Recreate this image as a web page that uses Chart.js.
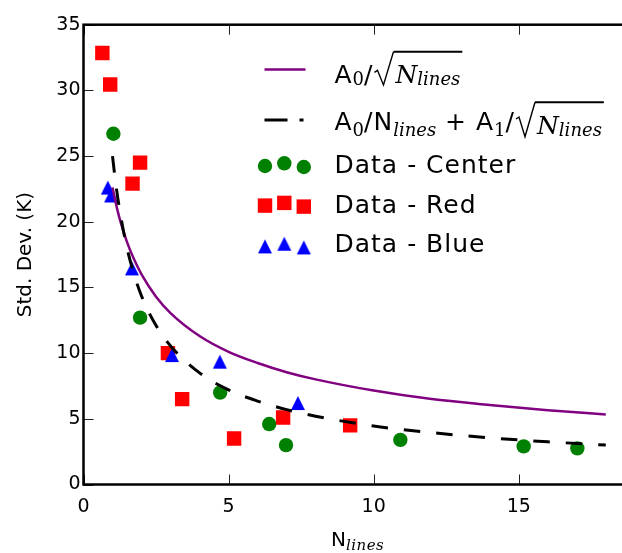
<!DOCTYPE html>
<html>
<head>
<meta charset="utf-8">
<script src="https://cdn.jsdelivr.net/npm/chart.js@4.4.1/dist/chart.umd.min.js"></script>
<style>
  html, body { margin: 0; padding: 0; background: #fff; overflow: hidden; width: 622px; height: 553px; }
  #wrap { width: 645px; height: 553px; }
</style>
</head>
<body>
<div id="wrap"><canvas id="noiseChart" width="645" height="553"></canvas></div>
<script>
// values
const centerN = [1.03, 1.95, 4.71, 6.40, 6.98, 10.92, 15.17, 17.02]
const centerSd = [26.7, 12.7, 7.0, 4.6, 3.0, 3.4, 2.9, 2.75]

const redN = [0.65, 0.92, 1.95, 1.69, 2.91, 3.40, 5.19, 6.88, 9.19]
const redSd = [32.85, 30.45, 24.5, 22.9, 10.0, 6.5, 3.5, 5.1, 4.5]

const blueN = [0.84, 0.95, 1.67, 3.05, 4.70, 7.39]
const blueSd = [22.6, 22.0, 16.45, 9.85, 9.35, 6.2]

// fitted curves
const curveN = [1, 1.1, 1.25, 1.5, 1.75, 2, 2.5, 3, 4, 5, 6, 7, 8, 10, 12, 14, 16, 18]
const sqrtFit = [22.6, 21.55, 20.2, 18.45, 17.1, 16.0, 14.3, 13.05, 11.3, 10.1, 9.25, 8.55, 8.0, 7.15, 6.5, 6.05, 5.65, 5.33]
const mixedFit = [25.0, 23.1, 20.85, 18.0, 15.95, 14.35, 12.1, 10.55, 8.5, 7.2, 6.35, 5.7, 5.2, 4.45, 3.95, 3.55, 3.25, 3.0]

const xTicks = [0, 5, 10, 15]
const yTicks = [0, 5, 10, 15, 20, 25, 30, 35]

const toPoints = (xs, ys) => xs.map((v, i) => ({ x: v, y: ys[i] }))

const SANS = '"DejaVu Sans", sans-serif'
const SERIF = '"DejaVu Serif", serif'

// matplotlib style '^' marker, centred on its bounding box
function triangleMarker(color) {
    const c = document.createElement('canvas')
    c.width = 16
    c.height = 16
    const g = c.getContext('2d')
    g.fillStyle = color
    g.beginPath()
    g.moveTo(8, 1)
    g.lineTo(15, 15)
    g.lineTo(1, 15)
    g.closePath()
    g.fill()
    return c
}
const blueTriangle = triangleMarker('#0000ff')

function runs(ctx, items, x, base, draw) {
    for (const r of items) {
        if (r.sqrt) {
            const w = runs(ctx, r.sqrt, 0, base, false)
            if (draw) {
                ctx.save()
                ctx.lineWidth = 1.4
                ctx.strokeStyle = '#000'
                ctx.beginPath()
                ctx.moveTo(x + 1, base - 11)
                ctx.lineTo(x + 4, base - 13)
                ctx.lineTo(x + 10, base + r.bot)
                ctx.lineTo(x + 20, base - r.top)
                ctx.stroke()
                ctx.lineWidth = 2
                ctx.beginPath()
                ctx.moveTo(x + 20, base - r.top)
                ctx.lineTo(x + 24 + w, base - r.top)
                ctx.stroke()
                ctx.restore()
            }
            x = runs(ctx, r.sqrt, x + 22, base, draw) + 2
        } else {
            ctx.font = r.font
            ctx.letterSpacing = r.spacing || '0px'
            if (draw) ctx.fillText(r.text, x, base + (r.dy || 0))
            x += ctx.measureText(r.text).width + (r.gap || 0)
            ctx.letterSpacing = '0px'
        }
    }
    return x
}

const bigSans = '25px ' + SANS
const subSerif = '18px ' + SERIF
const subItalic = 'italic 18px ' + SERIF
const bigItalic = 'italic 25px ' + SERIF
const wide = '1px'

const legendRows = [
    {
        kind: 'line', y: 69.5, base: 83.3,
        label: [
            { text: 'A', font: bigSans, spacing: wide },
            { text: '0', font: subSerif, dy: 2 },
            { text: '/', font: bigSans, gap: 1 },
            { sqrt: [{ text: 'N', font: bigItalic }, { text: 'lines', font: subItalic, dy: 2 }], top: 31.5, bot: 1.7 }
        ]
    },
    {
        kind: 'dash', y: 120, base: 130,
        label: [
            { text: 'A', font: bigSans, spacing: wide },
            { text: '0', font: subSerif, dy: 6 },
            { text: '/', font: bigSans, spacing: wide },
            { text: 'N', font: bigSans, spacing: wide },
            { text: 'lines', font: subItalic, dy: 6 },
            { text: ' + ', font: bigSans, spacing: wide },
            { text: 'A', font: bigSans, spacing: wide },
            { text: '1', font: subSerif, dy: 6 },
            { text: '/', font: bigSans, gap: 1 },
            { sqrt: [{ text: 'N', font: bigItalic, dy: 4 }, { text: 'lines', font: subItalic, dy: 6 }], top: 27.7, bot: 6.7 }
        ]
    },
    { kind: 'circle', color: '#008000', y: 165.6, base: 172.7, label: [{ text: 'Data - Center', font: bigSans, spacing: wide }] },
    { kind: 'rect', color: '#ff0000', y: 205.2, base: 212.7, label: [{ text: 'Data - Red', font: bigSans, spacing: wide }] },
    { kind: 'tri', color: '#0000ff', y: 246, base: 251.7, label: [{ text: 'Data - Blue', font: bigSans, spacing: wide }] }
]

const frameAndLegend = {
    id: 'frameAndLegend',
    afterDraw(chart) {
        const { ctx, chartArea: a, scales: { x, y } } = chart
        ctx.save()

        // inward ticks on all four sides
        ctx.strokeStyle = '#222'
        ctx.lineWidth = 1
        ctx.beginPath()
        for (const v of xTicks) {
            const px = Math.round(x.getPixelForValue(v)) + 0.5
            ctx.moveTo(px, a.bottom); ctx.lineTo(px, a.bottom - 10)
            ctx.moveTo(px, a.top); ctx.lineTo(px, a.top + 10)
        }
        for (const v of yTicks) {
            const py = Math.round(y.getPixelForValue(v)) + 0.5
            ctx.moveTo(a.left, py); ctx.lineTo(a.left + 10, py)
            ctx.moveTo(a.right, py); ctx.lineTo(a.right - 10, py)
        }
        ctx.stroke()

        // spines
        ctx.strokeStyle = '#000'
        ctx.lineWidth = 2.5
        ctx.strokeRect(a.left, a.top, a.right - a.left, a.bottom - a.top)

        // x axis title N_lines
        ctx.fillStyle = '#000'
        ctx.textAlign = 'left'
        ctx.textBaseline = 'alphabetic'
        const xTitle = [
            { text: 'N', font: '20px ' + SANS },
            { text: 'lines', font: 'italic 15px ' + SERIF, dy: 4, spacing: '0.5px' }
        ]
        const tw = runs(ctx, xTitle, 0, 0, false)
        runs(ctx, xTitle, (a.left + a.right) / 2 - 1.5 - tw / 2, 546, true)

        // legend
        const hx = [265, 284.3, 303.8]
        const hdy = [0.4, -2.3, 1.4]
        for (const row of legendRows) {
            if (row.kind === 'line') {
                ctx.strokeStyle = '#800080'
                ctx.lineWidth = 2.5
                ctx.beginPath(); ctx.moveTo(264.5, row.y); ctx.lineTo(305.5, row.y); ctx.stroke()
            } else if (row.kind === 'dash') {
                ctx.strokeStyle = '#000'
                ctx.lineWidth = 3
                ctx.beginPath()
                ctx.moveTo(264.5, row.y); ctx.lineTo(287.5, row.y)
                ctx.moveTo(299.5, row.y); ctx.lineTo(303.5, row.y)
                ctx.stroke()
            } else {
                ctx.fillStyle = row.color
                for (let i = 0; i < 3; i++) {
                    const style = row.kind === 'tri' ? blueTriangle : row.kind
                    const radius = row.kind === 'rect' ? 10.2 : 7.2
                    Chart.helpers.drawPoint(ctx, { pointStyle: style, radius: radius, rotation: 0, borderWidth: 0 }, hx[i], row.y + hdy[i])
                }
            }
            ctx.fillStyle = '#000'
            runs(ctx, row.label, 334.5, row.base, true)
        }
        ctx.restore()
    }
}

const noiseChart = document.getElementById('noiseChart')

new Chart(noiseChart, {
    type: 'scatter',

    data: {
        datasets: [
            {
                label: 'A0/Nlines + A1/sqrt(Nlines)',
                data: toPoints(curveN, mixedFit),
                showLine: true,
                borderColor: '#000000',
                borderWidth: 3,
                borderDash: [16.5, 16],
                pointRadius: 0,
                cubicInterpolationMode: 'monotone'
            },
            {
                label: 'A0/sqrt(Nlines)',
                data: toPoints(curveN, sqrtFit),
                showLine: true,
                borderColor: '#800080',
                borderWidth: 2.5,
                pointRadius: 0,
                cubicInterpolationMode: 'monotone'
            },
            {
                label: 'Data - Blue',
                data: toPoints(blueN, blueSd),
                pointStyle: blueTriangle,
                backgroundColor: '#0000ff',
                borderWidth: 0,
                pointRadius: 8
            },
            {
                label: 'Data - Red',
                data: toPoints(redN, redSd),
                pointStyle: 'rect',
                backgroundColor: '#ff0000',
                borderWidth: 0,
                pointRadius: 10.2
            },
            {
                label: 'Data - Center',
                data: toPoints(centerN, centerSd),
                pointStyle: 'circle',
                backgroundColor: '#008000',
                borderWidth: 0,
                pointRadius: 7.2
            }
        ]
    },

    options: {
        responsive: false,
        animation: false,
        devicePixelRatio: 1,

        layout: {
            padding: { left: 0, right: 0, top: 24.7, bottom: 0 }
        },

        plugins: {
            legend: { display: false },
            tooltip: { enabled: false }
        },

        scales: {
            x: {
                type: 'linear',
                min: 0,
                max: 19,
                afterBuildTicks: scale => { scale.ticks = xTicks.map(v => ({ value: v })) },
                afterFit: scale => { scale.height = 68.5 },
                grid: { display: false, drawTicks: false },
                border: { display: false },
                ticks: {
                    color: '#000',
                    padding: 11,
                    maxRotation: 0,
                    font: { family: SANS, size: 19 }
                }
            },
            y: {
                type: 'linear',
                min: 0,
                max: 35,
                afterBuildTicks: scale => { scale.ticks = yTicks.map(v => ({ value: v })) },
                afterFit: scale => { scale.width = 83.5 },
                grid: { display: false, drawTicks: false },
                border: { display: false },
                ticks: {
                    color: '#000',
                    padding: 3,
                    font: { family: SANS, size: 19 }
                },
                title: {
                    display: true,
                    text: 'Std. Dev. (K)',
                    color: '#000',
                    font: { family: SANS, size: 20 },
                    padding: { top: 13.5, bottom: 0 }
                }
            }
        }
    },

    plugins: [frameAndLegend]
})
</script>
</body>
</html>
